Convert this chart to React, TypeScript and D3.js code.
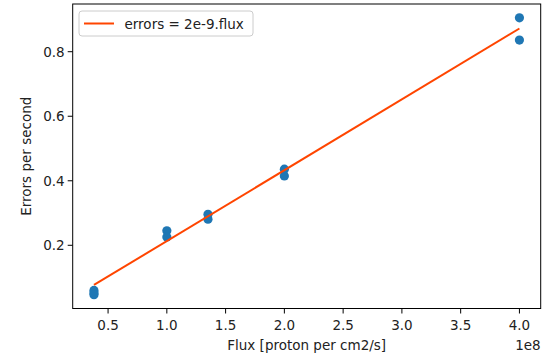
import React, { useEffect, useRef } from 'react';
import * as d3 from 'd3';

// measured points (flux in units of 1e8)
const flux = [0.38, 0.38, 0.38, 1.0, 1.0, 1.35, 1.35, 2.0, 2.0, 4.0, 4.0];
const errors = [0.06, 0.052, 0.047, 0.245, 0.226, 0.296, 0.281, 0.436, 0.415, 0.905, 0.836];

// fitted line
const lineFlux = [0.38, 4.0];
const lineErrors = [0.077, 0.872];

const xTicks = [0.5, 1.0, 1.5, 2.0, 2.5, 3.0, 3.5, 4.0];
const yTicks = [0.2, 0.4, 0.6, 0.8];
const legendLabel = 'errors = 2e-9.flux';

export default function App() {
  const ref = useRef<SVGSVGElement | null>(null);

  useEffect(() => {
    const width = 545, height = 353;
    const left = 72.7, right = 540.7, top = 4, bottom = 308.5;
    const font = 'DejaVu Sans, sans-serif';
    const fs = 13.5;

    const svg = d3.select(ref.current);
    svg.selectAll('*').remove();
    svg.attr('width', width).attr('height', height);

    const [x0, x1] = d3.extent(flux) as [number, number];
    const [y0, y1] = d3.extent(errors) as [number, number];
    const mx = (x1 - x0) * 0.05, my = (y1 - y0) * 0.05;
    const x = d3.scaleLinear().domain([x0 - mx, x1 + mx]).range([left, right]);
    const y = d3.scaleLinear().domain([y0 - my, y1 + my]).range([bottom, top]);

    svg.append('rect').attr('width', width).attr('height', height).attr('fill', '#fff');

    // points
    svg.append('g').selectAll('circle').data(flux).enter().append('circle')
      .attr('cx', d => x(d))
      .attr('cy', (_, i) => y(errors[i]))
      .attr('r', 4.6)
      .attr('fill', '#1f77b4');

    // fit line
    const line = d3.line<number>().x(d => x(d)).y((_, i) => y(lineErrors[i]));
    svg.append('path').datum(lineFlux).attr('d', line)
      .attr('fill', 'none').attr('stroke', '#ff4500').attr('stroke-width', 2);

    // frame
    svg.append('rect').attr('x', left).attr('y', top)
      .attr('width', right - left).attr('height', bottom - top)
      .attr('fill', 'none').attr('stroke', '#000').attr('stroke-width', 1);

    // x ticks
    const gx = svg.append('g');
    xTicks.forEach(t => {
      gx.append('line').attr('x1', x(t)).attr('x2', x(t)).attr('y1', bottom).attr('y2', bottom + 5)
        .attr('stroke', '#000').attr('stroke-width', 1);
      gx.append('text').attr('x', x(t)).attr('y', bottom + 21).attr('text-anchor', 'middle')
        .attr('font-family', font).attr('font-size', fs).attr('fill', '#222').text(t.toFixed(1));
    });

    // y ticks
    const gy = svg.append('g');
    yTicks.forEach(t => {
      gy.append('line').attr('x1', left - 5).attr('x2', left).attr('y1', y(t)).attr('y2', y(t))
        .attr('stroke', '#000').attr('stroke-width', 1);
      gy.append('text').attr('x', left - 8).attr('y', y(t) + 5).attr('text-anchor', 'end')
        .attr('font-family', font).attr('font-size', fs).attr('fill', '#222').text(t.toFixed(1));
    });

    // axis labels
    svg.append('text').attr('x', (left + right) / 2).attr('y', 350).attr('text-anchor', 'middle')
      .attr('font-family', font).attr('font-size', fs).attr('fill', '#222').text('Flux [proton per cm2/s]');
    svg.append('text').attr('x', right).attr('y', 350).attr('text-anchor', 'end')
      .attr('font-family', font).attr('font-size', fs).attr('fill', '#222').text('1e8');
    svg.append('text').attr('transform', `translate(31,${(top + bottom) / 2}) rotate(-90)`)
      .attr('text-anchor', 'middle')
      .attr('font-family', font).attr('font-size', fs).attr('fill', '#222').text('Errors per second');

    // legend
    const lg = svg.append('g');
    lg.append('rect').attr('x', 79).attr('y', 11).attr('width', 174).attr('height', 25)
      .attr('rx', 3).attr('fill', '#fff').attr('fill-opacity', 0.8)
      .attr('stroke', '#ccc').attr('stroke-width', 1);
    lg.append('line').attr('x1', 84).attr('x2', 114).attr('y1', 23.5).attr('y2', 23.5)
      .attr('stroke', '#ff4500').attr('stroke-width', 2);
    lg.append('text').attr('x', 124.5).attr('y', 28.5)
      .attr('font-family', font).attr('font-size', fs).attr('fill', '#222').text(legendLabel);
  }, []);

  return <svg ref={ref} style={{ position: 'absolute', left: 0, top: 0 }} />;
}
